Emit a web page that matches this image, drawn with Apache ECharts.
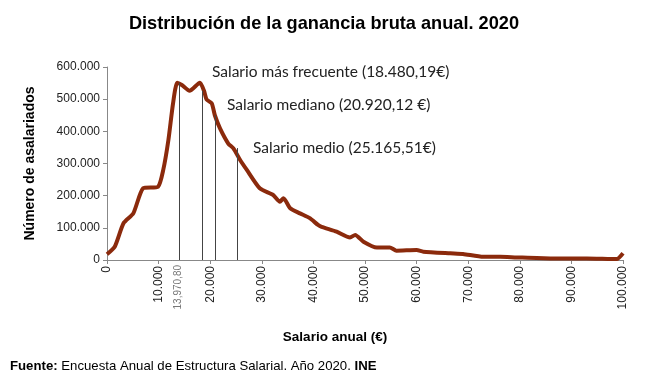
<!DOCTYPE html>
<html><head><meta charset="utf-8">
<script src="https://cdn.jsdelivr.net/npm/echarts@6/dist/echarts.min.js"></script>
<style>html,body{margin:0;padding:0;background:#fff}#c{width:648px;height:388px}</style>
</head><body><div id="c"></div>
<script>
// Salario anual (€)
const salaries = [0,1500,3200,5100,7000,9900,10900,11900,12800,13600,14500,16000,18000,18800,19300,20300,20900,21900,23500,24500,25800,27100,29600,32200,33500,34200,35500,37400,39300,40900,41600,44500,47100,48100,49700,52300,54800,56100,60000,61300,66500,69000,72900,76200,79400,85900,93000,98800,100000];
// Número de asalariados
const workers = [18000,41000,114000,145000,223000,228000,280000,373000,487000,551000,544000,526000,551000,526000,499000,487000,450000,409000,362000,347000,311000,280000,223000,202000,181000,192000,161000,145000,130000,109000,103000,88000,70000,78000,57000,39000,39000,29000,31000,26000,21000,19000,10000,10000,8000,5000,5000,3000,21000];
// reference lines: x value, curve height
const refX = [13970.80, 18480.19, 20920.12, 25165.51];
const refY = [551000, 526000, 450000, 348000];
const annotations = ['Salario más frecuente (18.480,19€)','Salario mediano (20.920,12 €)','Salario medio (25.165,51€)'];
const xTicks = {min:0, max:100000, interval:10000};
const yTicks = {min:0, max:600000, interval:100000};
const fmt = v => String(v).replace(/\B(?=(\d{3})+(?!\d))/g,'.');

const chart = echarts.init(document.getElementById('c'));
chart.setOption({
  animation:false,
  title:{text:'Distribución de la ganancia bruta anual. 2020',left:'center',top:10,
    textStyle:{fontFamily:'Liberation Sans, Arial',fontSize:18.2,fontWeight:'bold',color:'#000'}},
  grid:{left:107,right:25,top:67,bottom:128},
  xAxis:{type:'value',min:xTicks.min,max:xTicks.max,interval:xTicks.interval,
    axisLine:{lineStyle:{color:'#888'}},axisTick:{show:true,length:4,lineStyle:{color:'#888'}},
    splitLine:{show:false},
    axisLabel:{rotate:90,margin:6,formatter:fmt,fontFamily:'Liberation Sans, Arial',fontSize:12,color:'#222'}},
  yAxis:{type:'value',min:yTicks.min,max:yTicks.max,interval:yTicks.interval,
    name:'Número de asalariados',nameLocation:'middle',nameGap:70,
    nameTextStyle:{fontFamily:'Liberation Sans, Arial',fontSize:14,fontWeight:'bold',color:'#000'},
    axisLine:{show:true,lineStyle:{color:'#888'}},axisTick:{show:true,length:4,lineStyle:{color:'#888'}},
    splitLine:{show:false},
    axisLabel:{formatter:fmt,margin:7,fontFamily:'Liberation Sans, Arial',fontSize:12,color:'#222'}},
  series:[{type:'line',data:salaries.map((s,i)=>[s,workers[i]]),showSymbol:false,smooth:0.2,
    lineStyle:{color:'#8b2a0c',width:4},z:3,
    markLine:{silent:true,symbol:'none',label:{show:false},
      lineStyle:{color:'#444',width:1,type:'solid'},
      data:refX.map((x,i)=>[{coord:[x,0]},{coord:[x,refY[i]]}])}}],
  graphic:[
    {type:'text',x:212,y:72,style:{text:annotations[0],font:'15.5px Lato, "Open Sans", sans-serif',fill:'#222',verticalAlign:'middle'}},
    {type:'text',x:227,y:105,style:{text:annotations[1],font:'15.5px Lato, "Open Sans", sans-serif',fill:'#222',verticalAlign:'middle'}},
    {type:'text',x:253,y:148,style:{text:annotations[2],font:'15.5px Lato, "Open Sans", sans-serif',fill:'#222',verticalAlign:'middle'}},
    {type:'text',x:178,y:265,rotation:Math.PI/2,style:{text:'13,970,80',align:'right',verticalAlign:'middle',font:'10px "Liberation Sans", Arial',fill:'#777'}},
    {type:'text',x:335,y:337,style:{text:'Salario anual (€)',align:'center',verticalAlign:'middle',font:'bold 13.5px "Liberation Sans", Arial',fill:'#000'}},
    {type:'text',x:10,y:366,style:{text:'{b|Fuente:} Encuesta Anual de Estructura Salarial. Año 2020. {b|INE}',
      rich:{b:{fontWeight:'bold',fontFamily:'Liberation Sans, Arial',fontSize:13.2,fill:'#000'}},
      font:'13.2px "Liberation Sans", Arial',fill:'#000',verticalAlign:'middle'}}
  ]
});
</script></body></html>
